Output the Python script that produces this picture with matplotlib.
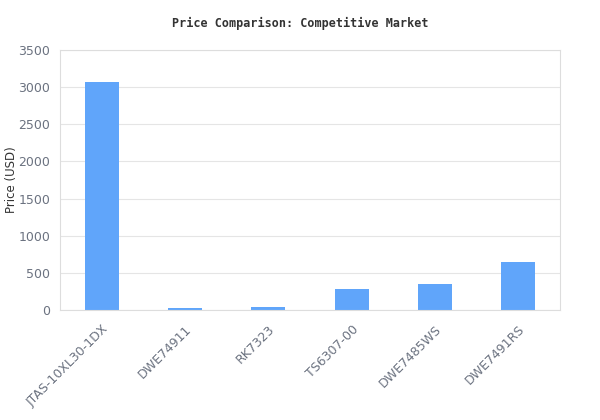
import matplotlib
matplotlib.use("Agg")
import matplotlib.pyplot as plt
from matplotlib.transforms import ScaledTranslation

categories = ["JTAS-10XL30-1DX", "DWE74911", "RK7323", "TS6307-00", "DWE7485WS", "DWE7491RS"]
prices = [3070, 30, 40, 285, 350, 650]
yticks = [0, 500, 1000, 1500, 2000, 2500, 3000, 3500]

fig = plt.figure(figsize=(6, 4.2), dpi=100)
ax = fig.add_axes([0.1, 0.2619, 0.8333, 0.619])
x = list(range(len(categories)))
ax.bar(x, prices, width=0.41, color="#60a5fa", zorder=2)
ax.set_xlim(-0.5, len(categories) - 0.5)
ax.set_ylim(0, 3500)
ax.set_yticks(yticks)
ax.set_xticks(x)
ax.set_xticklabels(categories, rotation=45, ha="right", rotation_mode="anchor")
offset = ScaledTranslation(-6 / 100, 0, fig.dpi_scale_trans)
for lbl in ax.get_xticklabels():
    lbl.set_transform(lbl.get_transform() + offset)
ax.grid(axis="y", color="#e5e5e5", linewidth=0.8, zorder=0)
ax.set_axisbelow(True)
for s in ax.spines.values():
    s.set_color("#dddddd")
    s.set_linewidth(0.8)
ax.tick_params(axis="both", length=0, colors="#6b7280", labelsize=9, pad=7)
ax.tick_params(axis="x", pad=9)
ax.set_ylabel("Price (USD)", fontsize=8.5, color="#333333")
ax.yaxis.set_label_coords(-0.085, 0.5)
fig.text(0.5, 0.945, "Price Comparison: Competitive Market", ha="center", va="center",
         fontsize=8.5, fontweight="bold", family="DejaVu Sans Mono", color="#333333")
fig.savefig("out.png", dpi=100, facecolor="white")
